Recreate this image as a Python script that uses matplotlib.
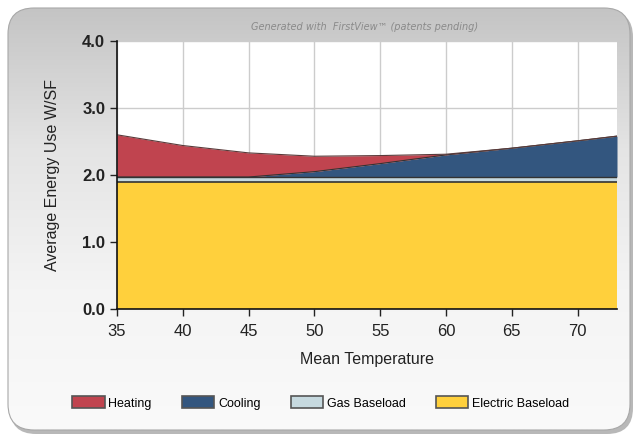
import numpy as np
import matplotlib.pyplot as plt
from matplotlib.colors import LinearSegmentedColormap
from matplotlib.patches import FancyBboxPatch, Patch

plt.rcParams["font.family"] = ["Liberation Sans", "DejaVu Sans"]

# data (W/SF vs mean temperature)
temp = [35, 40, 45, 50, 55, 60, 65, 70, 73]
electric = [1.89, 1.89, 1.89, 1.89, 1.89, 1.89, 1.89, 1.89, 1.89]
gas = [0.08, 0.08, 0.08, 0.08, 0.08, 0.08, 0.08, 0.08, 0.08]
cooling = [0.0, 0.0, 0.0, 0.08, 0.20, 0.33, 0.43, 0.54, 0.61]
heating = [0.63, 0.47, 0.36, 0.23, 0.12, 0.01, 0.0, 0.0, 0.0]

labels = ["Heating", "Cooling", "Gas Baseload", "Electric Baseload"]
colors = ["#c0444f", "#33567f", "#c6d9df", "#ffd03c"]

fig = plt.figure(figsize=(6.35, 4.36), dpi=100)
fig.patch.set_facecolor("white")

# rounded grey panel with vertical gradient
bg = fig.add_axes([0, 0, 1, 1], zorder=-10)
bg.set_xlim(0, 635)
bg.set_ylim(436, 0)
bg.axis("off")
shadow = FancyBboxPatch((10, 11), 623, 423, boxstyle="round,pad=0,rounding_size=26",
                        fc="#9a9a9a", ec="none", alpha=0.7, zorder=-2)
bg.add_patch(shadow)
panel = FancyBboxPatch((8, 8), 622, 422, boxstyle="round,pad=0,rounding_size=26",
                       fc="none", ec="#a8a8a8", lw=0.8, zorder=2)
bg.add_patch(panel)
grad = np.linspace(0, 1, 256).reshape(-1, 1)
cmap = LinearSegmentedColormap.from_list("g", ["#c4c4c4", "#e4e4e4", "#f4f4f4", "#fafafa"])
im = bg.imshow(grad, extent=[8, 630, 430, 8], cmap=cmap, aspect="auto", zorder=0)
im.set_clip_path(panel)
bg.text(365, 27, "Generated with  FirstView\u2122 (patents pending)", ha="center", va="center",
        fontsize=7, style="italic", color="#8a8a8a", family="DejaVu Sans")

ax = fig.add_axes([117 / 635, 1 - 309 / 436, 500 / 635, 268 / 436])
ax.set_facecolor("white")

x = np.array(temp, dtype=float)
e = np.array(electric)
g = e + np.array(gas)
c = g + np.array(cooling)
h = c + np.array(heating)

ax.fill_between(x, 0, e, color=colors[3], lw=0, zorder=2)
ax.fill_between(x, e, g, color=colors[2], lw=0, zorder=2)
ax.fill_between(x, g, c, color=colors[1], lw=0, zorder=2)
ax.fill_between(x, c, h, color=colors[0], lw=0, zorder=2)
ax.plot(x, e, color="#333333", lw=1.2, zorder=3)
ax.plot(x, g, color="#333333", lw=1.0, zorder=3)
ax.plot(x, c, color="#333333", lw=0.8, zorder=3)
ax.plot(x, h, color="#5a3a3a", lw=0.8, zorder=3)

ax.set_xlim(35, 73)
ax.set_ylim(0, 4)
ax.set_xticks([35, 40, 45, 50, 55, 60, 65, 70])
ax.set_yticks([0, 1, 2, 3, 4])
ax.set_yticklabels(["0.0", "1.0", "2.0", "3.0", "4.0"], fontweight="bold")
ax.tick_params(labelsize=12, colors="#222222", length=5, width=1)
ax.tick_params(axis="x", pad=6)
ax.grid(True, color="#cccccc", lw=1, zorder=0)
ax.set_axisbelow(True)
for s in ["top", "right"]:
    ax.spines[s].set_visible(False)
for s in ["left", "bottom"]:
    ax.spines[s].set_color("#111111")
    ax.spines[s].set_linewidth(1.2)
    ax.spines[s].set_zorder(5)

ax.set_xlabel("Mean Temperature", fontsize=11.5, color="#222222", labelpad=9)
ax.set_ylabel("Average Energy Use W/SF", fontsize=11.5, color="#222222", labelpad=16)

handles = [Patch(fc=colors[i], ec="#555555", lw=1.2, label=labels[i]) for i in range(4)]
fig.legend(handles=handles, loc="center", bbox_to_anchor=(0.505, 1 - 403 / 436), ncol=4,
           frameon=False, fontsize=9, handlelength=2.6, handleheight=1.1,
           handletextpad=0.3, columnspacing=2.4)

fig.savefig("out.png", dpi=100, facecolor="white")
